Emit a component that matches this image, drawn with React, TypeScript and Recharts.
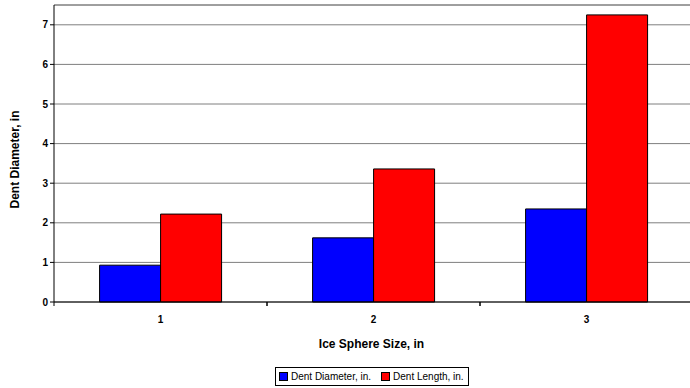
import { BarChart, Bar, XAxis, YAxis, CartesianGrid, ReferenceLine } from "recharts";

const sizes = ["1", "2", "3"];
const dentDiameter = [0.93, 1.62, 2.35];
const dentLength = [2.22, 3.36, 7.25];
const yTicks = [0, 1, 2, 3, 4, 5, 6, 7];

const data = sizes.map((s, i) => ({ size: s, diameter: dentDiameter[i], length: dentLength[i] }));

const W = 690;
const H = 388;
const CHART_W = 693; // plot runs slightly past the right edge
const LEFT = 54;
const BAND = (CHART_W - LEFT) / sizes.length;
const FONT = "'Liberation Sans', Arial, sans-serif";

const XTick = ({ x, y, payload }: any) => (
  <g>
    <line x1={x - BAND / 2} x2={x - BAND / 2} y1={y - 8} y2={y - 4} stroke="#000" />
    <line x1={x + BAND / 2} x2={x + BAND / 2} y1={y - 8} y2={y - 4} stroke="#000" />
    <text x={x} y={y + 13} textAnchor="middle" fontSize={10} fontWeight="bold" fill="#000" fontFamily={FONT}>
      {payload.value}
    </text>
  </g>
);

const Swatch = ({ color }: { color: string }) => (
  <span style={{ display: "inline-block", width: 7, height: 7, background: color, border: "1px solid #000", marginRight: 3, verticalAlign: "middle", position: "relative", top: -1 }} />
);

export default function App() {
  return (
    <div style={{ position: "absolute", left: 0, top: 0, width: W, height: H, overflow: "hidden", background: "#fff", fontFamily: FONT }}>
      <BarChart width={CHART_W} height={H} data={data} margin={{ top: 5, right: 0, left: 0, bottom: 0 }}
        barCategoryGap="21.4%" barGap={0}>
        <CartesianGrid vertical={false} stroke="#7f7f7f" />
        <ReferenceLine y={7.5} stroke="#7f7f7f" />
        <XAxis dataKey="size" height={86} tickLine={false} axisLine={{ stroke: "#000" }} tick={<XTick />}
          label={{ value: "Ice Sphere Size, in", position: "insideTop", dy: 32, dx: -2, fontSize: 12, fontWeight: "bold", fill: "#000", fontFamily: FONT }} />
        <YAxis width={LEFT} domain={[0, 7.5]} ticks={yTicks} interval={0} tickSize={4}
          axisLine={{ stroke: "#000" }} tickLine={{ stroke: "#000" }}
          tick={{ fontSize: 10, fontWeight: "bold", fill: "#000", fontFamily: FONT }}
          label={{ value: "Dent Diameter, in", angle: -90, position: "insideLeft", dx: 10, dy: 55, fontSize: 12, fontWeight: "bold", fill: "#000", fontFamily: FONT }} />
        <Bar dataKey="diameter" fill="#0000ff" stroke="#000" strokeWidth={1} isAnimationActive={false} />
        <Bar dataKey="length" fill="#ff0000" stroke="#000" strokeWidth={1} isAnimationActive={false} />
      </BarChart>
      <div style={{ position: "absolute", left: 275, top: 367, height: 17, border: "1px solid #000", fontSize: 10, lineHeight: "17px", padding: "0 4px 0 3px", whiteSpace: "nowrap", color: "#000" }}>
        <Swatch color="#0000ff" />Dent Diameter, in.
        <span style={{ display: "inline-block", width: 10 }} />
        <Swatch color="#ff0000" />Dent Length, in.
      </div>
    </div>
  );
}
